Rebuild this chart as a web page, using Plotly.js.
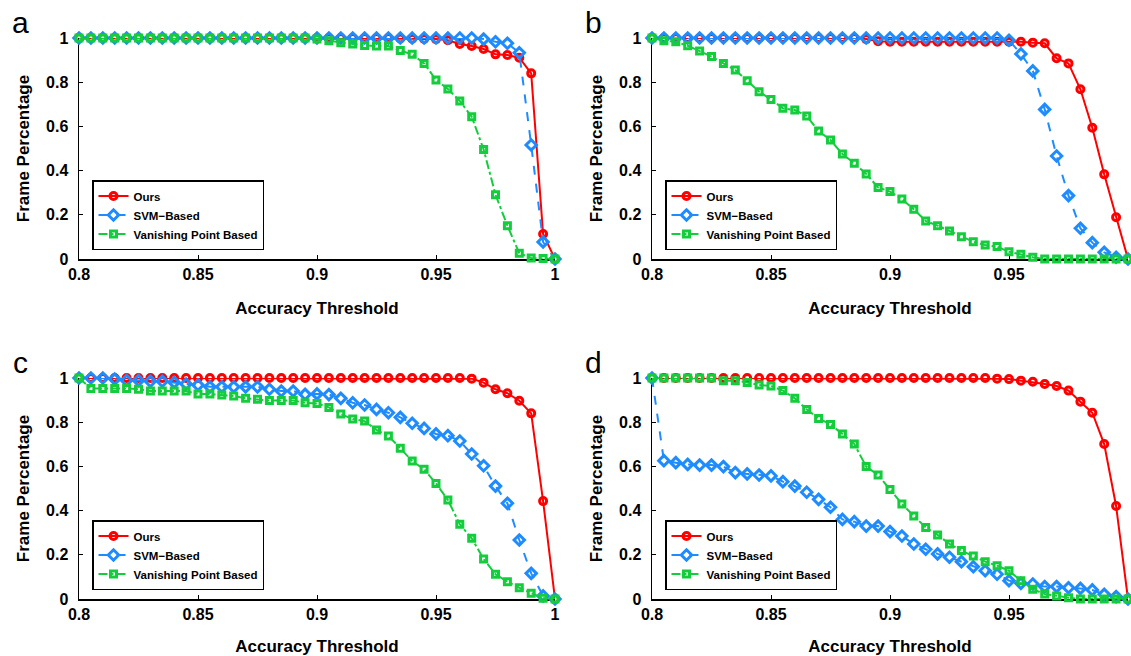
<!DOCTYPE html>
<html>
<head>
<meta charset="utf-8">
<script src="https://cdn.plot.ly/plotly-3.0.1.min.js"></script>
<style>html,body{margin:0;padding:0;background:#fff;}#chart{width:1131px;height:656px;}</style>
</head>
<body>
<div id="chart"></div>
<script>
// ---- data ----
const thresholds = [0.8,0.805,0.81,0.815,0.82,0.825,0.83,0.835,0.84,0.845,
  0.85,0.855,0.86,0.865,0.87,0.875,0.88,0.885,0.89,0.895,
  0.9,0.905,0.91,0.915,0.92,0.925,0.93,0.935,0.94,0.945,
  0.95,0.955,0.96,0.965,0.97,0.975,0.98,0.985,0.99,0.995,1.0];
const xTickVals = [0.8,0.85,0.9,0.95,1];
const xTickText = ['0.8','0.85','0.9','0.95','1'];
const yTickVals = [0,0.2,0.4,0.6,0.8,1];
const yTickText = ['0','0.2','0.4','0.6','0.8','1'];
const seriesNames = ['Ours','SVM\u2212Based','Vanishing Point Based'];
const panelLabels = ['a','b','c','d'];
const xTitle = 'Accuracy Threshold';
const yTitle = 'Frame Percentage';

// panel a
const oursA = [1,1,1,1,1,1,1,1,1,1, 1,1,1,1,1,1,1,1,1,1, 1,1,1,1,1,1,1,0.998,0.997,0.996,
  0.995,0.99,0.973,0.964,0.95,0.926,0.923,0.911,0.84,0.113,0];
const svmA = [1,1,1,1,1,1,1,1,1,1, 1,1,1,1,1,1,1,1,1,1, 1,1,1,1,1,1,1,1,1,1,
  1,1,1,1,0.995,0.983,0.976,0.933,0.516,0.077,0];
const vpA = [1,1,1,1,1,1,1,1,1,1, 1,1,1,1,1,1,1,1,1,1,
  0.995,0.988,0.979,0.973,0.966,0.964,0.964,0.943,0.926,0.885,
  0.81,0.769,0.715,0.644,0.496,0.291,0.151,0.026,0.005,0.002,0];
// panel b
const oursB = [1,1,1,1,1,1,1,1,1,1, 1,1,1,1,1,1,1,1,0.995,0.985,
  0.983,0.983,0.983,0.983,0.983,0.983,0.983,0.983,0.983,0.983,
  0.983,0.983,0.979,0.976,0.908,0.885,0.768,0.594,0.383,0.189,0];
const svmB = [1,1,1,1,1,1,1,1,1,1, 1,1,1,1,1,1,1,1,1,1, 1,1,1,1,1,1,1,1,1,1,
  0.99,0.928,0.851,0.677,0.466,0.287,0.139,0.074,0.03,0.008,0];
const vpB = [1,0.988,0.983,0.965,0.941,0.916,0.885,0.855,0.807,0.757,
  0.722,0.682,0.674,0.647,0.579,0.538,0.475,0.433,0.385,0.324,
  0.305,0.271,0.225,0.172,0.151,0.127,0.101,0.078,0.063,0.056,
  0.033,0.021,0.008,0,0,0,0,0,0,0,0];
// panel c
const oursC = [1,1,1,1,1,1,1,1,1,1, 1,1,1,1,1,1,1,1,1,1, 1,1,1,1,1,1,1,1,1,1,
  1,1,1,0.997,0.979,0.949,0.931,0.897,0.84,0.443,0];
const svmC = [1,1,1,0.995,0.989,0.989,0.985,0.985,0.98,0.973,
  0.968,0.96,0.96,0.96,0.96,0.96,0.949,0.941,0.941,0.926,
  0.928,0.925,0.908,0.888,0.878,0.858,0.843,0.822,0.795,0.772,
  0.747,0.739,0.715,0.656,0.603,0.511,0.433,0.267,0.116,0.014,0];
const vpC = [1,0.953,0.953,0.953,0.953,0.949,0.941,0.941,0.941,0.941,
  0.928,0.928,0.923,0.919,0.908,0.904,0.898,0.898,0.898,0.888,
  0.885,0.867,0.837,0.814,0.805,0.765,0.738,0.682,0.624,0.587,
  0.523,0.448,0.338,0.275,0.181,0.112,0.078,0.051,0.026,0.003,0];
// panel d
const oursD = [1,1,1,1,1,1,1,1,1,1, 1,1,1,1,1,1,1,1,1,1, 1,1,1,1,1,1,1,1,1,0.997,
  0.995,0.988,0.983,0.973,0.964,0.943,0.893,0.843,0.701,0.421,0];
const svmD = [1,0.626,0.617,0.609,0.606,0.606,0.599,0.572,0.566,0.561,
  0.557,0.531,0.511,0.483,0.451,0.415,0.36,0.35,0.33,0.33,
  0.305,0.285,0.249,0.225,0.204,0.189,0.169,0.146,0.128,0.112,
  0.083,0.071,0.068,0.056,0.056,0.051,0.048,0.041,0.021,0.011,0];
const vpD = [1,1,1,1,1,1,0.988,0.988,0.98,0.968,
  0.964,0.943,0.908,0.858,0.817,0.79,0.747,0.701,0.599,0.561,
  0.496,0.43,0.376,0.324,0.29,0.249,0.219,0.195,0.169,0.151,
  0.128,0.083,0.044,0.023,0.014,0.006,0,0,0,0,0];

const panelData = [[oursA,svmA,vpA],[oursB,svmB,vpB],[oursC,svmC,vpC],[oursD,svmD,vpD]];

// ---- styling / geometry ----
const W = 1131, H = 656;
const FONT = 'Liberation Sans, Arial, Helvetica, sans-serif';
const colors = ['rgb(255,0,0)','rgb(30,140,255)','rgb(20,205,60)'];
const dashes = ['solid','dash','dashdot'];
const symbols = ['circle-open','diamond-open','square-open'];
const msizes = [7,8,6];
// pixel boxes [left,right,top,bottom]
const boxes = [[79,555,38,259],[652,1128,38,259],[79,555,378,599],[652,1128,378,599]];
const px = v => v / W;
const py = v => 1 - v / H;

const traces = [];
const layout = {
  width: W, height: H,
  margin: {l:0,r:0,t:0,b:0},
  paper_bgcolor: '#fff', plot_bgcolor: '#fff',
  font: {family: FONT, color: '#000'},
  annotations: []
};

panelData.forEach((series, p) => {
  const sfx = p === 0 ? '' : String(p + 1);
  const b = boxes[p];
  const legName = 'legend' + sfx;
  series.forEach((vals, s) => {
    traces.push({
      type: 'scatter', mode: 'lines+markers',
      x: thresholds, y: vals,
      xaxis: 'x' + sfx, yaxis: 'y' + sfx,
      name: seriesNames[s],
      legend: legName,
      cliponaxis: false,
      line: {color: colors[s], width: 2, dash: dashes[s]},
      marker: {symbol: symbols[s], size: msizes[s], color: colors[s], line: {color: colors[s], width: 3}}
    });
  });
  const axCommon = {
    showgrid: false, zeroline: false, showline: true, linecolor: '#000', linewidth: 1.5,
    ticks: 'inside', ticklen: 4, tickwidth: 1, tickcolor: '#000',
    tickfont: {family: FONT, size: 16, color: '#000', weight: 'bold'},
    layer: 'below traces', fixedrange: true
  };
  layout['xaxis' + sfx] = Object.assign({}, axCommon, {
    domain: [px(b[0]), px(b[1])], anchor: 'y' + sfx,
    range: [0.8, 1.0], tickmode: 'array', tickvals: xTickVals, ticktext: xTickText,
    ticklabelstandoff: 0,
    title: {text: xTitle, font: {family: FONT, size: 17, color: '#000', weight: 'bold'}, standoff: 20}
  });
  layout['yaxis' + sfx] = Object.assign({}, axCommon, {
    domain: [py(b[3]), py(b[2])], anchor: 'x' + sfx,
    range: [0, 1], tickmode: 'array', tickvals: yTickVals, ticktext: yTickText,
    ticklabelstandoff: 6,
    title: {text: yTitle, font: {family: FONT, size: 17, color: '#000', weight: 'bold'}, standoff: 12}
  });
  layout[legName] = {
    x: px(b[0] + 13), y: py(b[2] + 177), xanchor: 'left', yanchor: 'middle',
    xref: 'paper', yref: 'paper',
    bgcolor: '#fff', bordercolor: '#000', borderwidth: 1.5,
    font: {family: FONT, size: 11.5, color: '#000', weight: 'bold'},
    itemwidth: 30, tracegroupgap: 0, traceorder: 'normal'
  };
  layout.annotations.push({
    text: panelLabels[p], xref: 'paper', yref: 'paper',
    x: px(b[0] - 59), y: py(b[2] - 16), xanchor: 'center', yanchor: 'middle',
    showarrow: false, font: {family: FONT, size: 30, color: '#000'}
  });
});

Plotly.newPlot('chart', traces, layout, {displayModeBar: false, staticPlot: true});
</script>
</body>
</html>
